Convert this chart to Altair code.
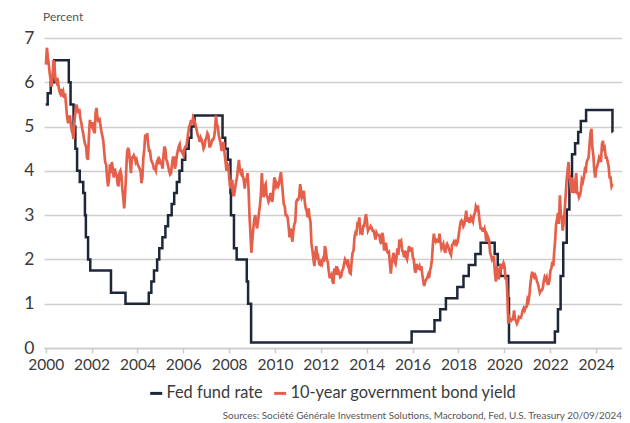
import altair as alt
import pandas as pd

# ---------------- data ----------------
# Fed funds target (single target pre-2008, range midpoint after 2008)
fed_dates = ["2000-01-01", "2000-02-02", "2000-03-21", "2000-05-16", "2001-01-03", "2001-01-31",
             "2001-03-20", "2001-04-18", "2001-05-15", "2001-06-27", "2001-08-21", "2001-09-17",
             "2001-10-02", "2001-11-06", "2001-12-11", "2002-11-06", "2003-06-25", "2004-06-30",
             "2004-08-10", "2004-09-21", "2004-11-10", "2004-12-14", "2005-02-02", "2005-03-22",
             "2005-05-03", "2005-06-30", "2005-08-09", "2005-09-20", "2005-11-01", "2005-12-13",
             "2006-01-31", "2006-03-28", "2006-05-10", "2006-06-29", "2007-09-18", "2007-10-31",
             "2007-12-11", "2008-01-22", "2008-01-30", "2008-03-18", "2008-04-30", "2008-10-08",
             "2008-10-29", "2008-12-16", "2015-12-17", "2016-12-15", "2017-03-16", "2017-06-15",
             "2017-12-14", "2018-03-22", "2018-06-14", "2018-09-27", "2018-12-20", "2019-08-01",
             "2019-09-19", "2019-10-31", "2020-03-04", "2020-03-16", "2022-03-17", "2022-05-05",
             "2022-06-16", "2022-07-28", "2022-09-22", "2022-11-03", "2022-12-15", "2023-02-02",
             "2023-03-23", "2023-05-04", "2023-07-27", "2024-09-19", "2024-09-20"]
fed_levels = [5.5, 5.75, 6.0, 6.5, 6.0, 5.5,
              5.0, 4.5, 4.0, 3.75, 3.5, 3.0,
              2.5, 2.0, 1.75, 1.25, 1.0, 1.25,
              1.5, 1.75, 2.0, 2.25, 2.5, 2.75,
              3.0, 3.25, 3.5, 3.75, 4.0, 4.25,
              4.5, 4.75, 5.0, 5.25, 4.75, 4.5,
              4.25, 3.5, 3.0, 2.25, 2.0, 1.5,
              1.0, 0.125, 0.375, 0.625, 0.875, 1.125,
              1.375, 1.625, 1.875, 2.125, 2.375, 2.125,
              1.875, 1.625, 1.125, 0.125, 0.375, 0.875,
              1.625, 2.375, 3.125, 3.875, 4.375, 4.625,
              4.875, 5.125, 5.375, 4.875, 4.875]

# 10-year Treasury yield, two readings per month (early / late month)
y2000 = [6.40, 6.78, 6.55, 6.40, 6.20, 6.05, 5.90, 6.15, 6.50, 6.35, 6.05, 6.00,
         6.10, 5.95, 5.80, 5.75, 5.85, 5.75, 5.80, 5.65, 5.75, 5.50, 5.25, 5.10]
y2001 = [5.10, 5.25, 5.05, 4.90, 4.85, 4.72, 5.15, 5.35, 5.50, 5.40, 5.30, 5.40,
         5.20, 5.10, 4.95, 4.85, 4.70, 4.60, 4.55, 4.30, 4.25, 4.80, 5.15, 5.05]
y2002 = [5.00, 5.10, 4.90, 4.85, 5.30, 5.42, 5.20, 5.10, 5.20, 5.05, 4.90, 4.80,
         4.70, 4.45, 4.20, 4.15, 3.85, 3.65, 3.80, 4.15, 3.95, 4.20, 4.05, 3.85]
y2003 = [4.05, 3.95, 3.90, 3.70, 3.65, 3.95, 4.00, 3.90, 3.60, 3.40, 3.15, 3.50,
         3.95, 4.40, 4.52, 4.45, 4.20, 3.95, 4.30, 4.30, 4.35, 4.30, 4.20, 4.25]
y2004 = [4.15, 4.10, 4.05, 4.00, 3.72, 3.85, 4.30, 4.50, 4.82, 4.70, 4.85, 4.60,
         4.45, 4.45, 4.25, 4.20, 4.15, 4.05, 4.05, 4.00, 4.20, 4.25, 4.15, 4.25]
y2005 = [4.20, 4.15, 4.05, 4.35, 4.55, 4.50, 4.25, 4.20, 4.10, 4.00, 3.92, 3.95,
         4.15, 4.30, 4.30, 4.05, 4.15, 4.35, 4.45, 4.55, 4.60, 4.45, 4.45, 4.40]
y2006 = [4.35, 4.50, 4.55, 4.55, 4.70, 4.85, 5.00, 5.05, 5.15, 5.05, 5.20, 5.15,
         5.10, 5.00, 4.90, 4.80, 4.75, 4.65, 4.75, 4.70, 4.60, 4.50, 4.55, 4.70]
y2007 = [4.75, 4.85, 4.80, 4.55, 4.55, 4.60, 4.70, 4.70, 4.75, 4.90, 5.25, 5.05,
         5.00, 4.80, 4.70, 4.60, 4.45, 4.60, 4.65, 4.40, 4.20, 4.00, 4.15, 4.10]
y2008 = [3.80, 3.60, 3.75, 3.80, 3.45, 3.45, 3.60, 3.75, 3.85, 4.05, 4.25, 4.00,
         3.95, 4.05, 3.90, 3.80, 3.60, 3.80, 3.80, 3.95, 3.60, 3.00, 2.60, 2.15]
y2009 = [2.45, 2.70, 2.90, 3.00, 2.85, 2.70, 2.85, 3.05, 3.20, 3.45, 3.95, 3.60,
         3.40, 3.65, 3.70, 3.45, 3.40, 3.30, 3.35, 3.50, 3.40, 3.30, 3.55, 3.85]
y2010 = [3.80, 3.65, 3.70, 3.65, 3.70, 3.85, 3.97, 3.75, 3.50, 3.25, 3.20, 3.00,
         3.00, 2.95, 2.75, 2.50, 2.70, 2.55, 2.40, 2.65, 2.80, 2.85, 3.30, 3.35]
y2011 = [3.35, 3.40, 3.70, 3.55, 3.40, 3.45, 3.55, 3.30, 3.15, 3.10, 2.95, 3.15,
         2.95, 2.85, 2.35, 2.20, 2.00, 1.85, 2.15, 2.30, 2.00, 2.05, 1.90, 1.88]
y2012 = [1.95, 1.90, 2.00, 1.95, 2.30, 2.20, 2.00, 1.95, 1.75, 1.60, 1.60, 1.65,
         1.50, 1.45, 1.80, 1.65, 1.85, 1.65, 1.75, 1.70, 1.60, 1.62, 1.75, 1.78]
y2013 = [1.90, 2.00, 1.95, 1.90, 2.00, 1.85, 1.70, 1.68, 1.95, 2.15, 2.20, 2.50,
         2.60, 2.58, 2.80, 2.78, 2.95, 2.62, 2.65, 2.55, 2.75, 2.75, 2.90, 3.02]
y2014 = [2.85, 2.65, 2.70, 2.70, 2.75, 2.72, 2.65, 2.65, 2.55, 2.45, 2.60, 2.55,
         2.55, 2.55, 2.40, 2.35, 2.60, 2.50, 2.20, 2.35, 2.35, 2.18, 2.15, 2.17]
y2015 = [1.90, 1.68, 1.95, 2.05, 2.15, 1.95, 1.90, 2.05, 2.25, 2.10, 2.45, 2.35,
         2.40, 2.20, 2.15, 2.05, 2.20, 2.05, 2.00, 2.15, 2.30, 2.20, 2.20, 2.27]
y2016 = [2.05, 2.00, 1.75, 1.70, 1.90, 1.80, 1.80, 1.85, 1.75, 1.85, 1.65, 1.50,
         1.40, 1.50, 1.55, 1.58, 1.65, 1.58, 1.75, 1.83, 2.00, 2.35, 2.58, 2.45]
y2017 = [2.40, 2.45, 2.45, 2.38, 2.58, 2.40, 2.25, 2.30, 2.35, 2.22, 2.15, 2.30,
         2.35, 2.30, 2.22, 2.15, 2.10, 2.32, 2.35, 2.40, 2.35, 2.40, 2.35, 2.40]
y2018 = [2.55, 2.70, 2.85, 2.88, 2.85, 2.75, 2.80, 2.95, 3.10, 2.85, 2.95, 2.85,
         2.85, 2.95, 2.90, 2.85, 3.00, 3.05, 3.20, 3.15, 3.22, 3.05, 2.85, 2.70]
y2019 = [2.70, 2.65, 2.65, 2.70, 2.60, 2.40, 2.55, 2.50, 2.40, 2.15, 2.08, 2.00,
         2.05, 2.05, 1.70, 1.50, 1.85, 1.70, 1.55, 1.75, 1.90, 1.78, 1.85, 1.92]
y2020 = [1.85, 1.55, 1.60, 1.15, 0.55, 0.70, 0.65, 0.62, 0.65, 0.65, 0.85, 0.65,
         0.62, 0.55, 0.60, 0.70, 0.68, 0.68, 0.75, 0.85, 0.90, 0.85, 0.92, 0.93]
y2021 = [1.10, 1.05, 1.20, 1.45, 1.60, 1.72, 1.65, 1.60, 1.65, 1.60, 1.50, 1.45,
         1.35, 1.25, 1.30, 1.30, 1.35, 1.50, 1.60, 1.55, 1.60, 1.45, 1.45, 1.52]
y2022 = [1.75, 1.80, 1.95, 1.85, 2.15, 2.40, 2.80, 2.90, 3.05, 2.80, 3.45, 3.00,
         2.95, 2.65, 2.85, 3.10, 3.45, 3.80, 4.00, 4.20, 3.85, 3.70, 3.50, 3.85]
y2023 = [3.55, 3.50, 3.75, 3.95, 3.50, 3.50, 3.40, 3.45, 3.55, 3.80, 3.75, 3.85,
         4.00, 3.95, 4.20, 4.25, 4.30, 4.60, 4.85, 4.95, 4.50, 4.35, 4.00, 3.85]
y2024 = [4.05, 4.10, 4.20, 4.30, 4.25, 4.20, 4.60, 4.68, 4.45, 4.50, 4.30, 4.30,
         4.20, 4.10, 3.85, 3.85, 3.65, 3.70]

yield_years = [y2000, y2001, y2002, y2003, y2004, y2005, y2006, y2007, y2008, y2009,
               y2010, y2011, y2012, y2013, y2014, y2015, y2016, y2017, y2018, y2019,
               y2020, y2021, y2022, y2023, y2024]

SERIES = ["Fed fund rate", "10-year government bond yield"]
SOURCE = "Sources: Société Générale Investment Solutions, Macrobond, Fed, U.S. Treasury 20/09/2024"
NAVY = "#1f2638"
RED = "#e5604b"

# ---------------- tables ----------------
fed_df = pd.DataFrame({"date": pd.to_datetime(fed_dates), "value": fed_levels, "series": SERIES[0]})

rows = []
for i, vals in enumerate(yield_years):
    year = 2000 + i
    for j, v in enumerate(vals):
        month = j // 2 + 1
        day = 5 if j % 2 == 0 else 20
        rows.append({"date": pd.Timestamp(year, month, day), "value": v})
yld_df = pd.DataFrame(rows)
yld_df["series"] = SERIES[1]

# ---------------- chart ----------------
x_scale = alt.Scale(domain=[alt.DateTime(year=1999, month=12, date=5),
                            alt.DateTime(year=2025, month=2, date=18)])
y_scale = alt.Scale(domain=[0, 7], nice=False)
color_scale = alt.Scale(domain=SERIES, range=[NAVY, RED])

x_enc = alt.X("date:T", scale=x_scale, title=None,
              axis=alt.Axis(values=[alt.DateTime(year=yr, month=1, date=1) for yr in range(2000, 2025, 2)],
                            format="%Y", grid=False, domainColor="#cccccc", domainWidth=1.5,
                            tickColor="#cccccc", tickSize=5, tickWidth=1.5,
                            labelFont="Lato", labelFontSize=15.5, labelColor="#3a3a3a",
                            labelPadding=4))
y_enc = alt.Y("value:Q", scale=y_scale, title=None,
              axis=alt.Axis(values=list(range(0, 8)), grid=True, gridColor="#cfcfcf", gridWidth=1.5,
                            domain=False, ticks=False, labelFont="Lato", labelFontSize=17.5,
                            labelColor="#3a3a3a", labelPadding=10))
legend = alt.Legend(title=None, orient="none", legendX=104, legendY=347, direction="horizontal",
                    symbolType="stroke", symbolStrokeWidth=3, symbolSize=144,
                    labelFont="Lato", labelFontSize=16.4, labelColor="#3a3a3a", labelLimit=0,
                    labelOffset=2, columnPadding=5)

fed = alt.Chart(fed_df).mark_line(interpolate="step-after", strokeWidth=2.5).encode(
    x=x_enc, y=y_enc,
    color=alt.Color("series:N", scale=color_scale, legend=legend, sort=SERIES),
)
yld = alt.Chart(yld_df).mark_line(strokeWidth=2.7).encode(
    x=x_enc, y=y_enc,
    color=alt.Color("series:N", scale=color_scale, legend=legend, sort=SERIES),
)

percent = alt.Chart(pd.DataFrame({"t": ["Percent"]})).mark_text(
    align="left", baseline="alphabetic", font="Lato", fontSize=12, color="#555555"
).encode(text="t:N", x=alt.value(-1), y=alt.value(-17))

source = alt.Chart(pd.DataFrame({"t": [SOURCE]})).mark_text(
    align="right", baseline="alphabetic", font="Lato", fontSize=9.9, color="#555555"
).encode(text="t:N", x=alt.value(578), y=alt.value(381))

chart = alt.layer(fed, yld, percent, source).properties(
    width=578, height=310,
    autosize=alt.AutoSizeParams(type="none"),
    padding={"left": 36, "top": 30, "right": 0, "bottom": 75},
).configure_view(stroke=None)

chart.save("out.html", embed_options={"renderer": "svg", "actions": False})
